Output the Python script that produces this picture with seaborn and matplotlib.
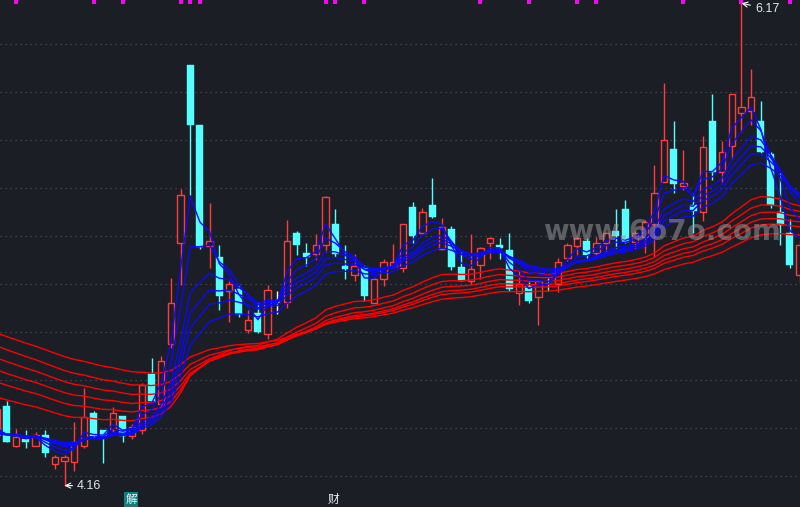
import numpy as np
import pandas as pd
import matplotlib
matplotlib.use("Agg")
import matplotlib.pyplot as plt
import matplotlib.transforms as mtransforms
import seaborn as sns

# ---------------- data (candle index -1 is clipped at the left edge) ----------------
idx = list(range(-1, 83))
opens = [4.371, 4.492, 4.326, 4.356, 4.326, 4.371, 4.248, 4.261, 4.260, 4.326,
         4.461, 4.392, 4.396, 4.450, 4.367, 4.392, 4.624, 4.499, 4.749, 5.170,
         5.912, 5.663, 5.160, 5.114, 4.971, 4.978, 4.808, 4.880, 4.790, 4.925,
         4.927, 5.214, 5.129, 5.125, 5.163, 5.250, 5.075, 5.038, 5.072, 4.920,
         5.020, 5.075, 5.068, 5.322, 5.211, 5.329, 5.145, 5.228, 5.070, 5.013,
         5.079, 5.170, 5.163, 5.142, 4.961, 4.992, 4.947, 5.000, 4.999, 5.110,
         5.160, 5.179, 5.128, 5.170, 5.221, 5.313, 5.174, 5.197, 5.250, 5.426,
         5.563, 5.410, 5.329, 5.299, 5.679, 5.468, 5.576, 5.711, 5.721, 5.680,
         5.542, 5.301, 5.211, 5.038]
highs = [4.496, 4.513, 4.396, 4.392, 4.383, 4.392, 4.288, 4.288, 4.424, 4.565,
         4.471, 4.393, 4.488, 4.452, 4.415, 4.589, 4.690, 4.700, 5.024, 5.395,
         5.913, 5.664, 5.338, 5.163, 5.013, 4.996, 4.892, 4.920, 4.996, 4.971,
         5.267, 5.222, 5.170, 5.207, 5.368, 5.313, 5.163, 5.124, 5.079, 5.029,
         5.104, 5.167, 5.251, 5.340, 5.317, 5.440, 5.275, 5.242, 5.135, 5.208,
         5.154, 5.196, 5.190, 5.214, 5.058, 5.010, 5.017, 5.024, 5.107, 5.170,
         5.196, 5.190, 5.197, 5.217, 5.313, 5.350, 5.221, 5.267, 5.496, 5.839,
         5.679, 5.558, 5.380, 5.617, 5.792, 5.596, 5.792, 6.170, 5.896, 5.764,
         5.551, 5.461, 5.270, 5.183]
lows = [4.363, 4.342, 4.321, 4.315, 4.323, 4.281, 4.229, 4.160, 4.222, 4.315,
        4.358, 4.253, 4.379, 4.343, 4.354, 4.375, 4.510, 4.492, 4.733, 4.996,
        5.371, 5.145, 5.065, 4.892, 4.843, 4.864, 4.795, 4.794, 4.771, 4.875,
        4.901, 5.121, 5.076, 5.100, 5.133, 5.111, 5.021, 5.013, 4.929, 4.919,
        4.992, 5.065, 5.051, 5.172, 5.208, 5.275, 5.142, 5.058, 5.012, 5.000,
        5.021, 5.103, 5.103, 4.972, 4.913, 4.922, 4.829, 4.971, 4.965, 5.096,
        5.121, 5.100, 5.117, 5.130, 5.149, 5.169, 5.146, 5.129, 5.114, 5.425,
        5.380, 5.392, 5.214, 5.264, 5.433, 5.422, 5.521, 5.635, 5.663, 5.545,
        5.315, 5.163, 5.065, 5.004]
closes = [4.479, 4.343, 4.363, 4.343, 4.369, 4.294, 4.279, 4.278, 4.340, 4.447,
          4.365, 4.367, 4.461, 4.367, 4.405, 4.579, 4.513, 4.679, 4.920, 5.370,
          5.664, 5.153, 5.179, 4.951, 4.999, 4.875, 4.849, 4.799, 4.974, 4.925,
          5.179, 5.163, 5.113, 5.163, 5.363, 5.127, 5.063, 5.075, 4.951, 5.021,
          5.090, 5.090, 5.250, 5.201, 5.299, 5.280, 5.239, 5.072, 5.014, 5.061,
          5.149, 5.190, 5.151, 4.979, 4.999, 4.930, 5.013, 4.998, 5.090, 5.163,
          5.190, 5.121, 5.170, 5.211, 5.201, 5.174, 5.211, 5.258, 5.380, 5.600,
          5.415, 5.421, 5.304, 5.572, 5.468, 5.549, 5.790, 5.739, 5.778, 5.551,
          5.329, 5.246, 5.079, 5.163]

# Guppy multiple moving averages: periods and their values before the window
short_periods = [3, 5, 8, 10, 12, 15]
short_seeds = [4.400, 4.390, 4.385, 4.380, 4.378, 4.375]
long_periods = [30, 35, 40, 45, 50, 60]
long_seeds = [4.529, 4.592, 4.642, 4.692, 4.742, 4.796]

# signal markers at the top edge (candle indices)
signal_idx = [1, 9, 12, 18, 19, 20, 33, 34, 37, 49, 54, 59, 61, 70, 76, 81]

# price axis range / grid levels
y_low, y_high = 4.0708, 6.1833
grid_levels = [4.2, 4.4, 4.6, 4.8, 5.0, 5.2, 5.4, 5.6, 5.8, 6.0]

# ---------------- style ----------------
BG = "#1c1e26"
UP = "#ff3b3b"
DOWN = "#54ffff"
sns.set_style("dark", {"axes.facecolor": BG, "figure.facecolor": BG})
plt.rcParams["font.family"] = ["Noto Sans CJK SC", "DejaVu Sans"]

fig = plt.figure(figsize=(8.0, 5.07), dpi=100, facecolor=BG)
ax = fig.add_axes([0, 0, 1, 1])
ax.set_facecolor(BG)

df = pd.DataFrame({"i": idx, "open": opens, "high": highs, "low": lows, "close": closes})


def ema(values, period, seed):
    a = 2.0 / (period + 1)
    out = []
    prev = seed
    for k, v in enumerate(values):
        if k == 0:
            out.append(seed)
            continue
        prev = a * v + (1 - a) * prev
        out.append(prev)
    return out


rows = []
for p, s in zip(long_periods, long_seeds):
    for x, v in zip(idx, ema(closes, p, s)):
        rows.append({"i": x, "v": v, "grp": f"L{p}"})
for p, s in zip(short_periods, short_seeds):
    for x, v in zip(idx, ema(closes, p, s)):
        rows.append({"i": x, "v": v, "grp": f"S{p}"})
ma = pd.DataFrame(rows)

# grid
for g in grid_levels:
    ax.axhline(g, color="#4a4f5a", lw=0.9, ls=(0, (1, 3)), zorder=0)

# candles
w = 0.66
for r in df.itertuples():
    if r.close > r.open:
        col = UP
    elif r.close < r.open:
        col = DOWN
    else:
        col = "white"
    ax.vlines(r.i, r.low, r.high, color=col, lw=1.0, zorder=2)
    if col == UP:
        ax.bar(r.i, r.close - r.open, bottom=r.open, width=w, facecolor=BG,
               edgecolor=UP, linewidth=1.0, zorder=3)
    elif col == DOWN:
        ax.bar(r.i, r.open - r.close, bottom=r.close, width=w + 0.06, facecolor=DOWN,
               edgecolor=DOWN, linewidth=0.3, zorder=3)
    else:
        ax.hlines(r.open, r.i - w / 2, r.i + w / 2, color="white", lw=1.0, zorder=3)

# moving averages
long_pal = {f"L{p}": "#ff0000" for p in long_periods}
short_pal = {f"S{p}": "#0a0aff" for p in short_periods}
sns.lineplot(data=ma[ma.grp.str.startswith("L")], x="i", y="v", hue="grp",
             palette=long_pal, estimator=None, sort=False, lw=1.0, legend=False,
             ax=ax, zorder=4)
sns.lineplot(data=ma[ma.grp.str.startswith("S")], x="i", y="v", hue="grp",
             palette=short_pal, estimator=None, sort=False, lw=1.0, legend=False,
             ax=ax, zorder=5)

# signal markers
trans = mtransforms.blended_transform_factory(ax.transData, ax.transAxes)
ax.scatter(signal_idx, [0.9965] * len(signal_idx), marker="s", s=6, color="#ff00ff",
           linewidths=0, transform=trans, zorder=6, clip_on=False)

# high / low annotations
hi_i = int(np.argmax(highs))
lo_i = int(np.argmin(lows))
ax.annotate(f"{highs[hi_i]:.2f}", xy=(idx[hi_i], highs[hi_i]),
            xytext=(idx[hi_i] + 1.4, highs[hi_i] - 0.024), ha="left", va="center",
            color="#dfe8f2", fontsize=9, family=["Liberation Sans", "DejaVu Sans"],
            arrowprops=dict(arrowstyle="->", color="white", lw=0.8,
                            shrinkA=1, shrinkB=0), zorder=7)
ax.annotate(f"{lows[lo_i]:.2f}", xy=(idx[lo_i], lows[lo_i]),
            xytext=(idx[lo_i] + 1.3, lows[lo_i]), ha="left", va="center",
            color="#dfe8f2", fontsize=9, family=["Liberation Sans", "DejaVu Sans"],
            arrowprops=dict(arrowstyle="->", color="white", lw=0.8,
                            shrinkA=1, shrinkB=0), zorder=7)

# bottom labels
fig.text(131 / 800, 1 - 499.5 / 507, "解", ha="center", va="center", fontsize=8.5,
         color="#e8f4f4", bbox=dict(boxstyle="square,pad=0.1", fc="#0e8080", ec="none"))
fig.text(333 / 800, 1 - 499.5 / 507, "财", ha="center", va="center", fontsize=8.5,
         color="#e8eef4")

# watermark
fig.text(662 / 800, 1 - 232 / 507, "www.6o7o.com", ha="center", va="center",
         fontsize=20, fontweight="bold", family="DejaVu Sans", color="#a0a0a0",
         alpha=0.5, zorder=10)

ax.set_xlim(-6.5 / 9.671, (800 - 6.5) / 9.671)
ax.set_ylim(y_low, y_high)
ax.set_axis_off()

fig.savefig("out.png", dpi=100, facecolor=BG)
